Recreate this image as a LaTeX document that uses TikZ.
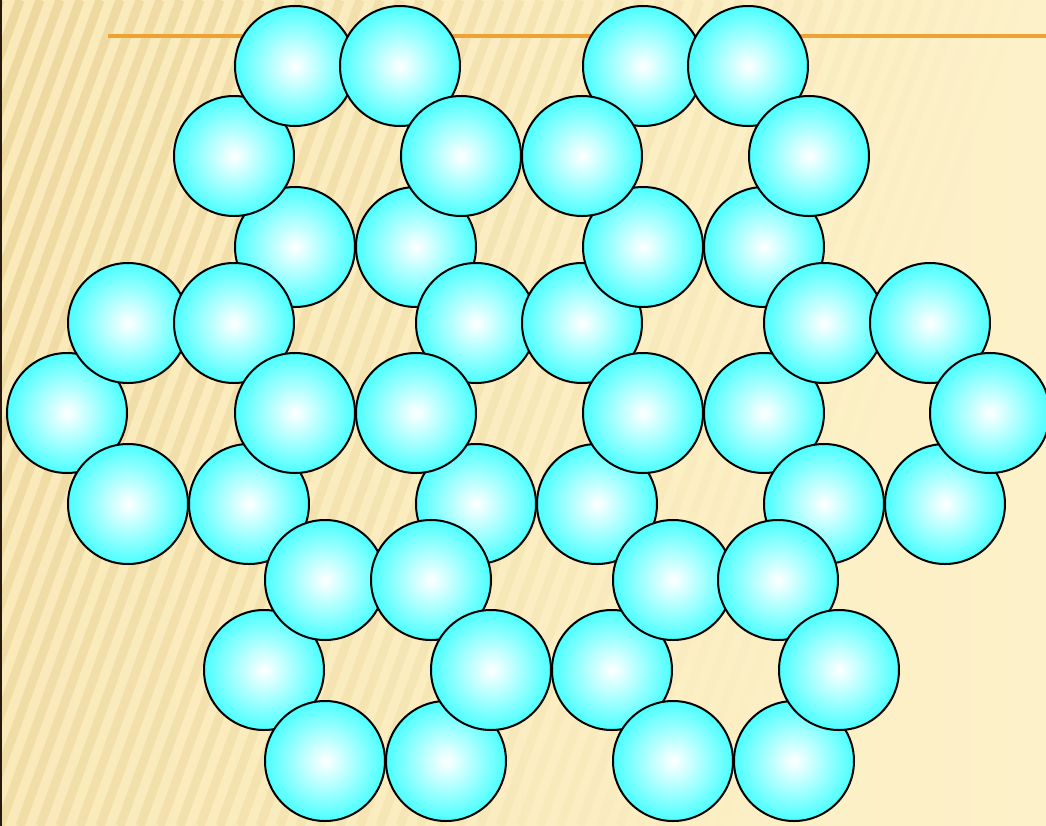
\documentclass[tikz,border=0pt]{standalone}
\definecolor{aqua}{RGB}{75,255,255}
\definecolor{sand}{RGB}{253,241,201}
\definecolor{sandleft}{RGB}{250,234,186}
\definecolor{streak}{RGB}{228,203,138}
\definecolor{rulecol}{RGB}{238,162,52}
\begin{document}
\begin{tikzpicture}[x=0.5pt,y=-0.5pt,
    ball/.style={draw=black,line width=1pt,inner color=white,outer color=aqua},
    streak/.style={draw=streak,line width=4.5pt},
    toprule/.style={draw=rulecol,line width=1.8pt},
  ]
    \shade[left color=sandleft,right color=sand] (0,0) rectangle (1046,826);
    \useasboundingbox (0,0) rectangle (1046,826);
    \begin{scope}
      \clip (0,0) rectangle (1046,826);
      \foreach \s in {-18,...,45} {
        \pgfmathsetmacro\op{max(0,0.45-(\s+4)*0.011)}
        \draw[streak,draw opacity=\op] (\s*20,826) -- ++(300,-826);
      }
    \end{scope}
    \draw[black!80!brown,line width=1.2pt] (1,0) -- (1,826);
    \draw[toprule] (108,36) -- (1046,36);
    % Seven rings of six balls, ring by ring; the order inside each list
    % is the stacking order, so later balls cover the earlier ones.
    \foreach \x/\y in {295/247,416/247,234/156,295/66,400/66,461/156,   % top left
                       67/413,128/504,249/504,128/323,234/323,295/413,  % left
                       476/504,597/504,476/323,582/323,416/413,643/413, % centre
                       643/66,748/66,643/247,582/156,764/247,809/156,   % top right
                       764/413,824/323,824/504,930/323,945/504,990/413, % right
                       264/670,325/761,446/761,325/580,431/580,491/670, % bottom left
                       612/670,673/761,794/761,673/580,778/580,839/670} % bottom right
      \shade[ball] (\x,\y) circle[radius=30pt];
  \end{tikzpicture}
\end{document}
